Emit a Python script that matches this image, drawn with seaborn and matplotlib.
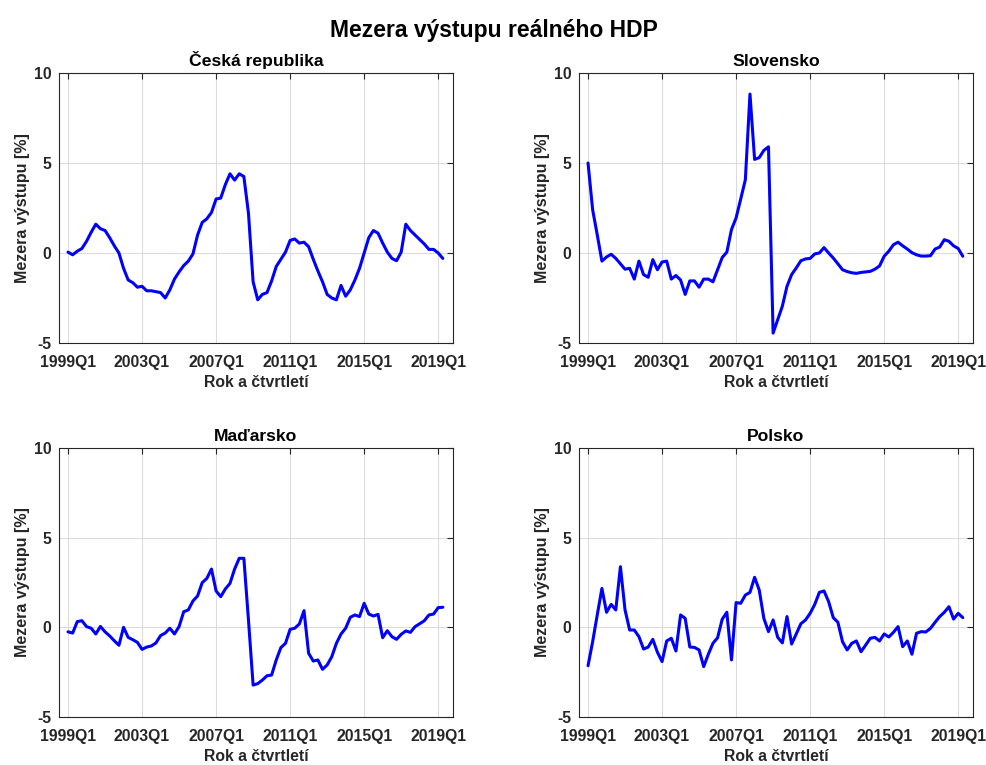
import numpy as np
import pandas as pd
import matplotlib
matplotlib.use("Agg")
import matplotlib.pyplot as plt
import seaborn as sns

# mezera výstupu, čtvrtletně 1999Q1 - 2019Q2
cz = [0.05, -0.1, 0.1, 0.25, 0.65, 1.15, 1.6, 1.35, 1.25, 0.85, 0.4, 0.0,
      -0.85, -1.5, -1.65, -1.9, -1.85, -2.1, -2.1, -2.15, -2.2, -2.5, -2.05, -1.45,
      -1.05, -0.7, -0.45, -0.05, 1.0, 1.7, 1.9, 2.25, 3.0, 3.05, 3.8, 4.4,
      4.05, 4.4, 4.25, 2.2, -1.6, -2.6, -2.3, -2.2, -1.55, -0.75, -0.35, 0.05,
      0.7, 0.78, 0.55, 0.6, 0.35, -0.35, -1.0, -1.6, -2.3, -2.5, -2.6, -1.8,
      -2.4, -2.05, -1.5, -0.85, 0.0, 0.85, 1.25, 1.1, 0.55, 0.05, -0.3, -0.43,
      0.05, 1.6, 1.25, 1.0, 0.75, 0.5, 0.2, 0.2, 0.0, -0.3]
sk = [5.0, 2.4, 1.0, -0.45, -0.22, -0.07, -0.3, -0.6, -0.9, -0.85, -1.45, -0.45,
      -1.2, -1.35, -0.37, -0.93, -0.5, -0.45, -1.45, -1.25, -1.5, -2.3, -1.55, -1.55,
      -1.9, -1.45, -1.45, -1.6, -0.93, -0.25, 0.05, 1.3, 1.95, 3.0, 4.07, 8.83,
      5.2, 5.3, 5.7, 5.9, -4.45, -3.7, -2.95, -1.85, -1.2, -0.83, -0.43, -0.33,
      -0.3, -0.05, 0.0, 0.3, 0.0, -0.28, -0.6, -0.93, -1.03, -1.1, -1.13, -1.08,
      -1.05, -1.02, -0.9, -0.72, -0.18, 0.1, 0.46, 0.6, 0.4, 0.22, 0.02, -0.1,
      -0.17, -0.17, -0.15, 0.22, 0.33, 0.74, 0.65, 0.4, 0.25, -0.18]
hu = [-0.25, -0.32, 0.32, 0.37, 0.04, -0.05, -0.37, 0.05, -0.25, -0.48, -0.75, -1.0,
      0.0, -0.56, -0.69, -0.84, -1.23, -1.1, -1.04, -0.87, -0.46, -0.32, -0.05, -0.37,
      0.04, 0.87, 0.97, 1.47, 1.75, 2.49, 2.73, 3.25, 2.03, 1.71, 2.14, 2.45,
      3.25, 3.85, 3.85, 0.4, -3.22, -3.14, -2.94, -2.7, -2.66, -1.82, -1.13, -0.89,
      -0.11, -0.05, 0.19, 0.93, -1.45, -1.88, -1.82, -2.34, -2.1, -1.64, -0.89, -0.37,
      -0.05, 0.56, 0.69, 0.6, 1.34, 0.74, 0.63, 0.72, -0.58, -0.19, -0.52, -0.67,
      -0.39, -0.2, -0.28, 0.04, 0.2, 0.37, 0.69, 0.74, 1.1, 1.12]
pl = [-2.14, -0.8, 0.7, 2.17, 0.84, 1.28, 0.97, 3.38, 0.97, -0.15, -0.15, -0.52,
      -1.21, -1.1, -0.67, -1.39, -1.91, -0.76, -0.61, -1.32, 0.69, 0.5, -1.1, -1.12,
      -1.26, -2.19, -1.5, -0.89, -0.58, 0.45, 0.84, -1.82, 1.38, 1.34, 1.8, 1.95,
      2.79, 2.08, 0.5, -0.24, 0.41, -0.56, -0.87, 0.6, -0.93, -0.37, 0.2, 0.41,
      0.78, 1.28, 1.95, 2.03, 1.43, 0.54, 0.28, -0.8, -1.26, -0.89, -0.76, -1.36,
      -0.99, -0.61, -0.56, -0.76, -0.37, -0.54, -0.28, 0.04, -1.08, -0.76, -1.5, -0.33,
      -0.24, -0.26, -0.06, 0.28, 0.6, 0.84, 1.15, 0.46, 0.78, 0.54]

zeme = ["Česká republika", "Slovensko", "Maďarsko", "Polsko"]
hodnoty = [cz, sk, hu, pl]
tick_pos = [1, 17, 33, 49, 65, 81]
tick_lab = ["1999Q1", "2003Q1", "2007Q1", "2011Q1", "2015Q1", "2019Q1"]

sns.set_style("white")
plt.rcParams['font.family'] = ['Liberation Sans', 'DejaVu Sans']
plt.rcParams['axes.unicode_minus'] = False

fig = plt.figure(figsize=(9.87, 7.65), dpi=100)
W, H = 987, 765
# pozice os v pixelech (levý, pravý, horní, dolní okraj)
boxes = [(59, 453, 73, 343), (579, 973, 73, 343),
         (59, 453, 448, 717), (579, 973, 448, 717)]

for (l, r, t, b), nazev, y in zip(boxes, zeme, hodnoty):
    ax = fig.add_axes([l / W, 1 - b / H, (r - l) / W, (b - t) / H])
    df = pd.DataFrame({"t": np.arange(1, len(y) + 1), "gap": y})
    sns.lineplot(data=df, x="t", y="gap", color="#0000ff", linewidth=2.2, ax=ax)
    ax.set_xlim(-0.95, 84.2)
    ax.set_ylim(-5, 10)
    ax.set_yticks([-5, 0, 5, 10])
    ax.set_xticks(tick_pos)
    ax.set_xticklabels(tick_lab)
    ax.grid(True, color="#dcdcdc", linewidth=0.8)
    ax.tick_params(direction="in", top=True, right=True, length=4, width=0.8,
                   colors="#262626", labelsize=11.3)
    ax.tick_params(axis="x", pad=8.5)
    ax.tick_params(axis="y", pad=5.5)
    for lab in ax.get_xticklabels() + ax.get_yticklabels():
        lab.set_fontweight("bold")
    for s in ax.spines.values():
        s.set_color("#262626")
        s.set_linewidth(0.8)
    ax.set_title(nazev, fontsize=12.6, fontweight="bold", color="black", pad=5)
    ax.set_xlabel("Rok a čtvrtletí", fontsize=11.3, fontweight="bold", color="#262626", labelpad=4)
    ax.set_ylabel("Mezera výstupu [%]", fontsize=11.5, fontweight="bold", color="#262626", labelpad=3)

fig.suptitle("Mezera výstupu reálného HDP", fontsize=16.5, fontweight="bold",
             color="black", y=0.975)
fig.savefig("out.png", dpi=100)
